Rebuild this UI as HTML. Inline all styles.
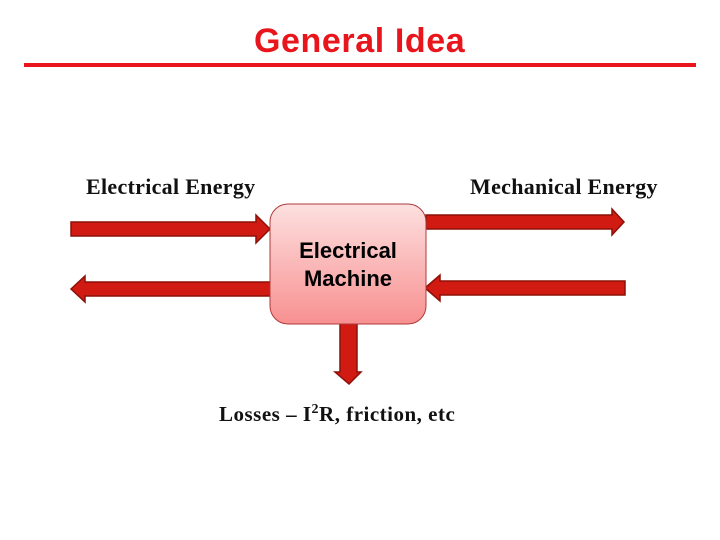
<!DOCTYPE html>
<html><head><style>
body{margin:0;width:720px;height:540px;background:#fff;position:relative;overflow:hidden}
.t{position:absolute;white-space:nowrap}
</style></head><body>
<div class="t" style="left:254px;top:22px;font:bold 34px 'Liberation Sans',sans-serif;letter-spacing:0.6px;color:#e8161c">General Idea</div>
<div style="position:absolute;left:24px;top:63px;width:672px;height:4px;background:#e8161c"></div>
<div class="t" style="left:86px;top:174px;font:bold 22px 'Liberation Serif',serif;letter-spacing:0.3px;color:#111">Electrical Energy</div>
<div class="t" style="left:470px;top:174px;font:bold 22px 'Liberation Serif',serif;letter-spacing:0.3px;color:#111">Mechanical Energy</div>
<svg width="720" height="540" style="position:absolute;left:0;top:0">
<defs><linearGradient id="g" x1="0" y1="0" x2="0" y2="1"><stop offset="0" stop-color="#fde0e0"/><stop offset="1" stop-color="#f89090"/></linearGradient></defs>
<g fill="#d11a12" stroke="#8c1008" stroke-width="1.5">
<polygon points="71,222 256,222 256,215 270,229 256,243 256,236 71,236"/>
<polygon points="71,289 85,276 85,282 272,282 272,296 85,296 85,302"/>
<polygon points="426,215 612,215 612,209 624,222 612,235 612,229 426,229"/>
<polygon points="425,288 440,275 440,281 625,281 625,295 440,295 440,301"/>
<polygon points="340,322 357,322 357,372 361,372 349,384 335,372 340,372"/>
</g>
<rect x="270" y="204" width="156" height="120" rx="18" fill="url(#g)" stroke="#b03a3a" stroke-width="1"/>
</svg>
<div class="t" style="left:270px;width:156px;top:237px;text-align:center;font:bold 22px/28px 'Liberation Sans',sans-serif;color:#000">Electrical<br>Machine</div>
<div class="t" style="left:219px;top:402px;font:bold 21px 'Liberation Serif',serif;letter-spacing:0.5px;color:#111">Losses – I<sup style="font-size:14px">2</sup>R, friction, etc</div>
</body></html>
